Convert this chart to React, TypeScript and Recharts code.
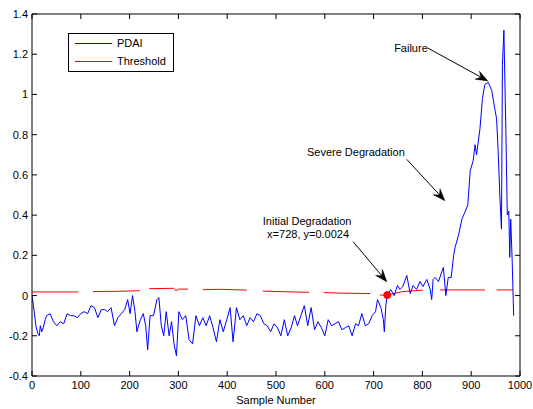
import React from 'react';
import { LineChart, Line, XAxis, YAxis, ReferenceLine, ReferenceDot, Legend } from 'recharts';

const FONT = '"Liberation Sans", Arial, Helvetica, sans-serif';

// PDAI series: sample index and value
const samples = [0, 3, 8, 12, 15, 17, 20, 23, 27, 30, 37, 44, 51, 58, 65, 72, 79, 86, 93, 100, 107, 114, 121, 128, 135, 142, 149, 155, 162, 169, 176, 183, 190, 196, 201, 206, 211, 215, 222, 228, 233, 237, 242, 249, 256, 260, 265, 270, 275, 281, 286, 291, 296, 301, 308, 315, 322, 329, 336, 343, 350, 357, 364, 371, 378, 385, 392, 399, 406, 412, 419, 426, 433, 440, 447, 454, 461, 468, 475, 482, 489, 496, 503, 510, 517, 524, 531, 538, 544, 551, 558, 565, 572, 579, 586, 593, 600, 607, 614, 621, 628, 635, 642, 649, 656, 663, 669, 676, 683, 690, 697, 704, 708, 715, 720, 722, 725, 728, 735, 742, 749, 754, 760, 768, 775, 781, 788, 795, 801, 809, 816, 819, 822, 826, 833, 840, 843, 848, 853, 859, 864, 867, 874, 881, 888, 893, 898, 904, 908, 911, 918, 923, 928, 935, 942, 949, 952, 955, 959, 962, 964, 967, 971, 974, 977, 979, 981, 984, 987];
const pdaiValues = [0.0, -0.05, -0.15, -0.19, -0.2, -0.15, -0.18, -0.16, -0.12, -0.1, -0.09, -0.13, -0.15, -0.13, -0.14, -0.09, -0.1, -0.1, -0.11, -0.09, -0.08, -0.09, -0.05, -0.06, -0.11, -0.07, -0.07, -0.08, -0.06, -0.15, -0.11, -0.09, -0.07, -0.02, -0.09, 0.0, -0.08, -0.18, -0.12, -0.09, -0.15, -0.27, -0.1, -0.1, -0.02, -0.01, -0.15, -0.2, -0.08, -0.2, -0.13, -0.24, -0.3, -0.08, -0.12, -0.1, -0.22, -0.24, -0.1, -0.15, -0.11, -0.15, -0.1, -0.16, -0.23, -0.12, -0.18, -0.12, -0.06, -0.23, -0.06, -0.12, -0.1, -0.15, -0.11, -0.13, -0.09, -0.1, -0.14, -0.15, -0.18, -0.14, -0.16, -0.2, -0.12, -0.2, -0.16, -0.1, -0.15, -0.1, -0.05, -0.15, -0.06, -0.17, -0.13, -0.16, -0.2, -0.12, -0.15, -0.14, -0.13, -0.17, -0.16, -0.15, -0.2, -0.14, -0.15, -0.09, -0.15, -0.14, -0.1, -0.08, -0.02, -0.06, -0.12, -0.18, -0.05, 0.0024, 0.03, 0.0, 0.05, 0.03, 0.045, 0.1, 0.01, 0.05, 0.03, 0.07, 0.045, 0.08, 0.03, -0.02, 0.08, 0.09, 0.07, 0.12, 0.14, 0.0, 0.09, 0.09, 0.2, 0.24, 0.3, 0.38, 0.42, 0.45, 0.62, 0.67, 0.75, 0.7, 0.83, 0.98, 1.05, 1.06, 1.02, 0.92, 0.88, 0.73, 0.48, 0.33, 1.15, 1.32, 0.82, 0.4, 0.42, 0.19, 0.38, 0.17, -0.1];

// Threshold series (null = gap in the dashed line)
const thresholdSamples = [0, 95, 110, 125, 170, 221, 230, 240, 290, 295, 300, 320, 335, 350, 385, 440, 456, 473, 500, 568, 583, 598, 630, 693, 703, 713, 728, 760, 801, 818, 836, 928, 940, 952, 986];
const thresholdValues: (number | null)[] = [0.018, 0.018, null, 0.02, 0.021, 0.024, null, 0.034, 0.036, 0.024, 0.032, 0.032, null, 0.029, 0.031, 0.027, null, 0.022, 0.02, 0.016, null, 0.015, 0.012, 0.01, null, 0.002, 0.003, 0.02, 0.027, null, 0.028, 0.028, null, 0.028, 0.028];

const xDomain = [0, 1000];
const yDomain = [-0.4, 1.4];
const xTicks = [0, 100, 200, 300, 400, 500, 600, 700, 800, 900, 1000];
const yTicks = [-0.4, -0.2, 0, 0.2, 0.4, 0.6, 0.8, 1, 1.2, 1.4];

const initialPoint = { x: 728, y: 0.0024 };

const annotations = [
  { lines: ['Failure'], from: { x: 811, y: 1.231 }, to: { x: 934, y: 1.067 }, place: 'failure' },
  { lines: ['Severe Degradation'], from: { x: 768, y: 0.677 }, to: { x: 846, y: 0.472 }, place: 'severe' },
  { lines: ['Initial Degradation', 'x=728, y=0.0024'], from: { x: 658, y: 0.268 }, to: { x: 727, y: 0.069 }, place: 'initial' },
];

const legendLabels = ['PDAI', 'Threshold'];
const legendColors = ['#0000ff', '#ff0000'];

const pdaiData = samples.map((x, i) => ({ x, pdai: pdaiValues[i] }));
const thresholdData = thresholdSamples.map((x, i) => ({ x, threshold: thresholdValues[i] }));

const fmtY = (v: number) => String(Math.round(v * 10) / 10);
const TICK_LEN = 5;

const BottomTick = (props: any) => {
  const { x, y, payload } = props;
  return (
    <text x={x} y={y + 13} textAnchor="middle" fontSize={11} fontFamily={FONT} fill="#000">{payload.value}</text>
  );
};
const LeftTick = (props: any) => {
  const { x, y, payload } = props;
  return (
    <text x={x - 4} y={y + 4} textAnchor="end" fontSize={11} fontFamily={FONT} fill="#000">{fmtY(payload.value)}</text>
  );
};
const NoTick = () => <g />;

// inward tick marks at both ends of a full-span segment
const VTickShape = (props: any) => {
  const { x1, y1, x2, y2 } = props;
  const top = Math.min(y1, y2), bot = Math.max(y1, y2);
  return (
    <g>
      <line x1={x1} x2={x1} y1={bot} y2={bot - TICK_LEN} stroke="#000" strokeWidth={1} />
      <line x1={x2} x2={x2} y1={top} y2={top + TICK_LEN} stroke="#000" strokeWidth={1} />
    </g>
  );
};
const HTickShape = (props: any) => {
  const { x1, y1, x2, y2 } = props;
  const l = Math.min(x1, x2), r = Math.max(x1, x2);
  return (
    <g>
      <line x1={l} x2={l + TICK_LEN} y1={y1} y2={y1} stroke="#000" strokeWidth={1} />
      <line x1={r} x2={r - TICK_LEN} y1={y2} y2={y2} stroke="#000" strokeWidth={1} />
    </g>
  );
};

const AnnotationShape = (props: any) => {
  const { x1, y1, x2, y2, ann } = props;
  const dx = x2 - x1;
  const dy = y2 - y1;
  const len = Math.sqrt(dx * dx + dy * dy) || 1;
  const ux = dx / len, uy = dy / len;
  const nx = -uy, ny = ux;
  const L = 12, W = 4.5;
  const bx = x2 - L * ux, by = y2 - L * uy;
  const mx = x2 - 0.65 * L * ux, my = y2 - 0.65 * L * uy;
  const pts = `${x2},${y2} ${bx + W * nx},${by + W * ny} ${mx},${my} ${bx - W * nx},${by - W * ny}`;
  let texts: React.ReactNode = null;
  const tp = { fontSize: 11, fontFamily: FONT, fill: '#000' };
  if (ann.place === 'failure') {
    texts = <text x={x1} y={y1 + 4} textAnchor="end" {...tp}>{ann.lines[0]}</text>;
  } else if (ann.place === 'severe') {
    texts = <text x={x1 - 2} y={y1 - 3} textAnchor="end" {...tp}>{ann.lines[0]}</text>;
  } else {
    texts = (
      <g>
        <text x={x1 - 46} y={y1 - 17} textAnchor="middle" {...tp}>{ann.lines[0]}</text>
        <text x={x1 - 45} y={y1 - 4} textAnchor="middle" {...tp}>{ann.lines[1]}</text>
      </g>
    );
  }
  return (
    <g>
      <line x1={x1} y1={y1} x2={mx} y2={my} stroke="#000" strokeWidth={1} />
      <polygon points={pts} fill="#000" stroke="#000" strokeWidth={0.5} />
      {texts}
    </g>
  );
};

const LegendBox = () => (
  <div style={{ position: 'relative', boxSizing: 'border-box', width: 106, height: 39, border: '1px solid #000', background: '#fff', fontFamily: FONT, fontSize: 11, color: '#000' }}>
    {legendLabels.map((label, i) => (
      <React.Fragment key={label}>
        <div style={{ position: 'absolute', left: 6, top: 9 + i * 18, width: 37, height: 1, backgroundColor: legendColors[i] }} />
        <div style={{ position: 'absolute', left: 48, top: 2 + i * 18, lineHeight: '14px', whiteSpace: 'nowrap', color: '#000' }}>{label}</div>
      </React.Fragment>
    ))}
  </div>
);

const XLabel = (props: any) => {
  const vb = props.viewBox || { x: 32, y: 376, width: 488, height: 33 };
  return (
    <text x={vb.x + vb.width / 2} y={vb.y + 28} textAnchor="middle" fontSize={11} fontFamily={FONT} fill="#000">Sample Number</text>
  );
};

export default function App() {
  return (
    <div style={{ position: 'absolute', left: 0, top: 0, background: '#fff' }}>
      <LineChart width={533} height={409} margin={{ top: 0, right: 0, bottom: 0, left: 0 }}>
        <XAxis
          dataKey="x" type="number" domain={xDomain} ticks={xTicks} interval={0} allowDataOverflow
          height={33} tickSize={0} tickMargin={0} tick={<BottomTick />} axisLine={{ stroke: '#000' }} tickLine={false}
          label={<XLabel />}
        />
        <XAxis
          xAxisId="top" orientation="top" dataKey="x" type="number" domain={xDomain} ticks={xTicks} interval={0} allowDataOverflow
          height={14} tickSize={0} tickMargin={0} tick={<NoTick />} axisLine={{ stroke: '#000' }} tickLine={false}
        />
        <YAxis
          type="number" domain={yDomain} ticks={yTicks} interval={0} allowDataOverflow
          width={32} tickSize={0} tickMargin={0} tick={<LeftTick />} axisLine={{ stroke: '#000' }} tickLine={false}
        />
        <YAxis
          yAxisId="right" orientation="right" type="number" domain={yDomain} ticks={yTicks} interval={0} allowDataOverflow
          width={13} tickSize={0} tickMargin={0} tick={<NoTick />} axisLine={{ stroke: '#000' }} tickLine={false}
        />
        {xTicks.map((t) => (
          <ReferenceLine key={`xt${t}`} segment={[{ x: t, y: yDomain[0] }, { x: t, y: yDomain[1] }]} ifOverflow="visible" shape={(p: any) => <VTickShape {...p} />} />
        ))}
        {yTicks.map((t) => (
          <ReferenceLine key={`yt${t}`} segment={[{ x: xDomain[0], y: t }, { x: xDomain[1], y: t }]} ifOverflow="visible" shape={(p: any) => <HTickShape {...p} />} />
        ))}
        <Line data={thresholdData} dataKey="threshold" stroke="#ff0000" strokeWidth={1} dot={false} activeDot={false} connectNulls={false} isAnimationActive={false} />
        <Line data={pdaiData} dataKey="pdai" stroke="#0000ff" strokeWidth={1} dot={false} activeDot={false} isAnimationActive={false} />
        <ReferenceDot x={initialPoint.x} y={initialPoint.y} r={3.5} fill="#ff0000" stroke="#ff0000" />
        {annotations.map((a) => (
          <ReferenceLine
            key={a.place}
            segment={[a.from, a.to]}
            ifOverflow="visible"
            shape={(p: any) => <AnnotationShape {...p} ann={a} />}
          />
        ))}
        <Legend
          layout="vertical" align="center" verticalAlign="middle"
          wrapperStyle={{ left: 68, top: 33, width: 106, height: 39 }}
          content={() => <LegendBox />}
        />
      </LineChart>
    </div>
  );
}
